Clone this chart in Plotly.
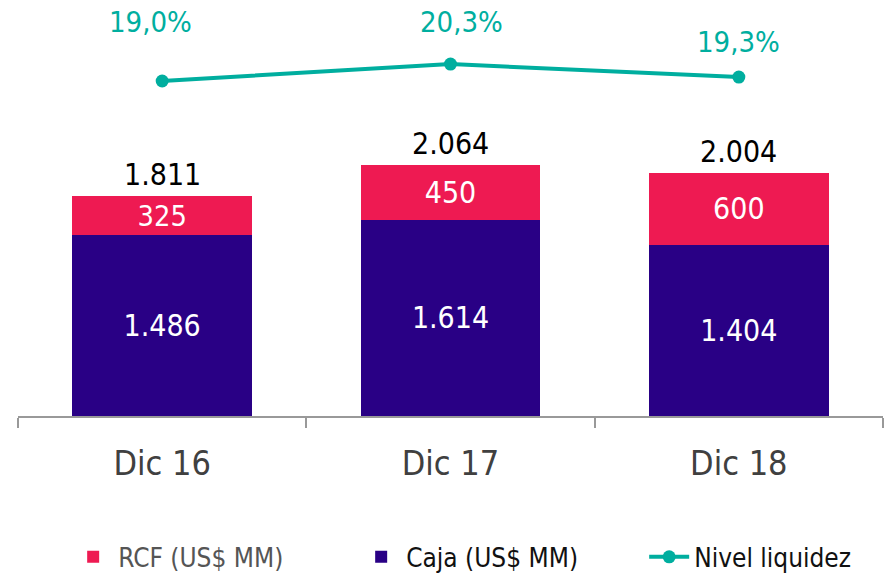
import plotly.graph_objects as go

categories = ["Dic 16", "Dic 17", "Dic 18"]
caja = [1486, 1614, 1404]
rcf = [325, 450, 600]
totals = [1811, 2064, 2004]
liquidez = [19.0, 20.3, 19.3]
liquidez_labels = ["19,0%", "20,3%", "19,3%"]

FONT = "DejaVu Sans Condensed, DejaVu Sans, sans-serif"
PINK = "#EE1A52"
PURPLE = "#290085"
TEAL = "#00AE9F"

fig = go.Figure()

fig.add_trace(go.Bar(
    x=categories, y=caja, name="Caja (US$ MM)", marker_color=PURPLE,
    marker_line_width=0, legendrank=2,
    texttemplate="%{y:,.0f}", textposition="inside", insidetextanchor="middle",
    textfont=dict(color="white", size=30, family=FONT),
))
fig.add_trace(go.Bar(
    x=categories, y=rcf, name="<span style='color:#555555'>RCF (US$ MM)</span>",
    marker_color=PINK, marker_line_width=0, legendrank=1,
    texttemplate="%{y:,.0f}", textposition="inside", insidetextanchor="middle",
    textfont=dict(color="white", size=30, family=FONT),
))
fig.add_trace(go.Scatter(
    x=categories, y=liquidez, name="Nivel liquidez", yaxis="y2",
    mode="lines+markers", line=dict(color=TEAL, width=4),
    marker=dict(color=TEAL, size=13), legendrank=3, cliponaxis=False,
))

# total labels above bars
for c, t in zip(categories, totals):
    fig.add_annotation(
        x=c, y=t, yref="y", text=f"{t:,}".replace(",", "."),
        showarrow=False, yanchor="bottom", yshift=2,
        font=dict(color="black", size=30, family=FONT),
    )

# percentage labels
pct_yshift = [59, 42, 35]
pct_xshift = [-12, 11, 0]
for c, v, lab, ys, xs in zip(categories, liquidez, liquidez_labels, pct_yshift, pct_xshift):
    fig.add_annotation(
        x=c, y=v, yref="y2", text=lab, showarrow=False,
        yanchor="middle", yshift=ys, xshift=xs, borderpad=0,
        font=dict(color=TEAL, size=29, family=FONT),
    )

fig.update_layout(
    width=893, height=578,
    margin=dict(l=18, r=10, t=10, b=162, autoexpand=False),
    paper_bgcolor="white", plot_bgcolor="white",
    barmode="stack", bargap=0.376,
    separators=",.",
    font=dict(family=FONT, color="#404040"),
    showlegend=True,
    legend=dict(
        orientation="h", x=0.058, xanchor="left", y=-0.347, yanchor="middle",
        font=dict(size=26, color="#111111", family=FONT),
        traceorder="normal", entrywidth=233, entrywidthmode="pixels",
        itemwidth=40,
    ),
    xaxis=dict(
        type="category", showline=True, linecolor="#999999", linewidth=1.5,
        ticks="outside", tickson="boundaries", ticklen=10, tickcolor="#999999",
        tickwidth=1.5, tickfont=dict(size=34, color="#404040", family=FONT),
        ticklabelstandoff=16,
        showgrid=False, zeroline=False, automargin=False,
    ),
    yaxis=dict(range=[0, 3342], visible=False, showgrid=False, zeroline=False),
    yaxis2=dict(range=[-6.77, 24.46], overlaying="y", visible=False,
                showgrid=False, zeroline=False),
)

fig.write_html("out.html", config={"displayModeBar": False},
               post_script="document.body.style.margin='0';")
